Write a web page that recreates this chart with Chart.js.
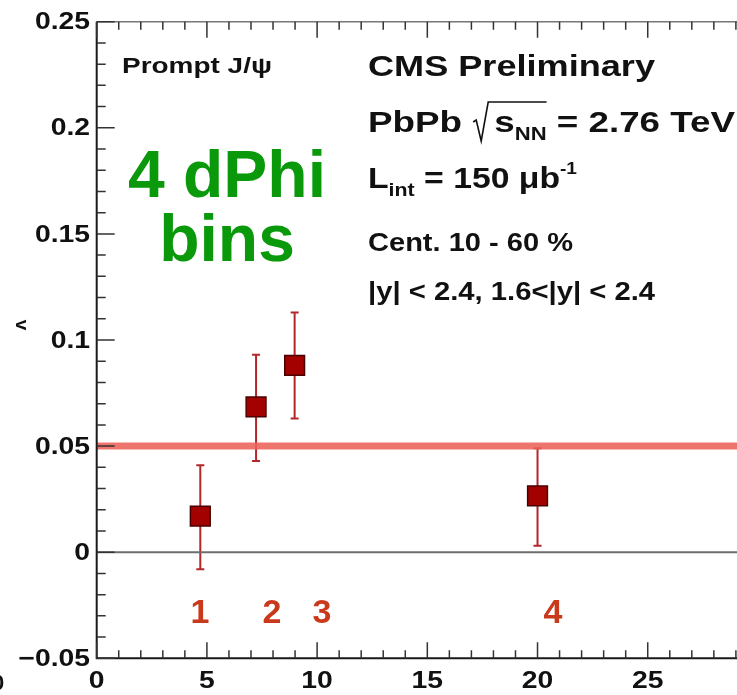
<!DOCTYPE html>
<html>
<head>
<meta charset="utf-8">
<script src="https://cdn.jsdelivr.net/npm/chart.js@4.4.1/dist/chart.umd.min.js"></script>
<style>
  html, body { margin: 0; padding: 0; background: #fff; }
  #wrap { width: 737px; height: 695px; }
</style>
</head>
<body>
<div id="wrap"><canvas id="v2Chart" width="737" height="695"></canvas></div>
<script>
// bin centres and v2 values
const binX = [4.7, 7.23, 8.98, 20.0];
const v2 = [0.017, 0.0685, 0.088, 0.0265];
const v2Low = [-0.008, 0.043, 0.063, 0.003];
const v2High = [0.041, 0.093, 0.113, 0.049];

// reference level (red band) and axis ranges
const refLevel = 0.05;
const xRange = [0, 29.05];
const yRange = [-0.05, 0.25];

// tick labels
const xTicks = [0, 5, 10, 15, 20, 25];
const xTickLabels = ['0', '5', '10', '15', '20', '25'];
const yTicks = [-0.05, 0, 0.05, 0.1, 0.15, 0.2, 0.25];
const yTickLabels = ['\u22120.05', '0', '0.05', '0.1', '0.15', '0.2', '0.25'];

// bin numbers written under the points
const binNames = ['1', '2', '3', '4'];
const binNameX = [4.69, 7.95, 10.22, 20.7];
const binNameY = -0.0334;

const BOLD = '"Liberation Sans", Arial, Helvetica, sans-serif';

function font(size) {
    return 'bold ' + size + 'px ' + BOLD;
}

// draw a string squeezed/stretched horizontally by sx
function stretchText(ctx, s, x, y, size, sx, align) {
    ctx.save();
    ctx.font = font(size);
    ctx.textAlign = align || 'left';
    ctx.translate(x, y);
    ctx.scale(sx, 1);
    ctx.fillText(s, 0, 0);
    ctx.restore();
}

// draw a run of pieces (sub/superscripts) fitted to a target width
function drawRun(ctx, pieces, x, y, target) {
    let total = 0;
    pieces.forEach(p => {
        ctx.font = font(p.size);
        p.w = p.gap != null ? p.gap : ctx.measureText(p.t).width;
        total += p.w;
    });
    const sx = target / total;
    let cx = x;
    const marks = {};
    pieces.forEach(p => {
        if (p.mark) marks[p.mark] = cx;
        if (p.t) stretchText(ctx, p.t, cx, y + (p.dy || 0), p.size, sx);
        cx += p.w * sx;
        if (p.endMark) marks[p.endMark] = cx;
    });
    return marks;
}

const decorations = {
    id: 'decorations',
    beforeDatasetsDraw(chart) {
        const ctx = chart.ctx;
        const xs = chart.scales.x, ys = chart.scales.y;
        // error bars
        ctx.save();
        ctx.strokeStyle = '#b3262a';
        ctx.lineWidth = 2;
        binX.forEach((bx, i) => {
            const px = xs.getPixelForValue(bx);
            const top = ys.getPixelForValue(v2High[i]);
            const bot = ys.getPixelForValue(v2Low[i]);
            ctx.beginPath();
            ctx.moveTo(px, top); ctx.lineTo(px, bot);
            ctx.moveTo(px - 4, top); ctx.lineTo(px + 4, top);
            ctx.moveTo(px - 4, bot); ctx.lineTo(px + 4, bot);
            ctx.stroke();
        });
        ctx.restore();
    },
    afterDraw(chart) {
        const ctx = chart.ctx;
        const xs = chart.scales.x, ys = chart.scales.y;
        const a = chart.chartArea;

        // frame
        ctx.save();
        ctx.strokeStyle = '#777';
        ctx.lineWidth = 1.5;
        ctx.beginPath();
        ctx.moveTo(a.left, a.top); ctx.lineTo(a.right, a.top);
        ctx.stroke();
        ctx.strokeStyle = '#1a1a1a';
        ctx.lineWidth = 2;
        ctx.beginPath();
        ctx.moveTo(a.left, a.top); ctx.lineTo(a.left, a.bottom); ctx.lineTo(a.right, a.bottom);
        ctx.stroke();

        // inward ticks, ROOT style
        ctx.strokeStyle = '#333';
        ctx.lineWidth = 1.5;
        ctx.beginPath();
        for (let i = 0; i <= 29; i++) {
            const px = xs.getPixelForValue(i);
            const len = i % 5 === 0 ? 16 : 8;
            ctx.moveTo(px, a.bottom); ctx.lineTo(px, a.bottom - len);
            ctx.moveTo(px, a.top); ctx.lineTo(px, a.top + len);
        }
        for (let k = -5; k <= 25; k++) {
            const py = ys.getPixelForValue(k / 100);
            const len = k % 5 === 0 ? 18 : 9;
            ctx.moveTo(a.left, py); ctx.lineTo(a.left + len, py);
        }
        ctx.stroke();
        ctx.restore();

        ctx.save();
        ctx.fillStyle = '#111';
        // tick labels
        ctx.textBaseline = 'middle';
        yTicks.forEach((v, i) => {
            stretchText(ctx, yTickLabels[i], 90, ys.getPixelForValue(v) + 1, 24, 1.18, 'right');
        });
        ctx.textBaseline = 'alphabetic';
        xTicks.forEach((v, i) => {
            stretchText(ctx, xTickLabels[i], xs.getPixelForValue(v), 688, 24, 1.18, 'center');
        });

        // axis title fragment (cropped)
        ctx.save();
        ctx.translate(16, 325);
        ctx.rotate(Math.PI / 2);
        ctx.font = font(19);
        ctx.textAlign = 'center';
        ctx.fillText('v', 0, 0);
        ctx.restore();
        ctx.font = font(22);
        ctx.fillText('0', -8, 690);

        // labels in the pad
        drawRun(ctx, [{ t: 'Prompt J/\u03c8', size: 22 }], 122, 73, 150);
        drawRun(ctx, [{ t: 'CMS Preliminary', size: 30 }], 368, 76, 287);
        const m = drawRun(ctx, [
            { t: 'PbPb ', size: 30 },
            { gap: 18, mark: 'sq' },
            { t: 's', size: 30, mark: 's' },
            { t: 'NN', size: 18, dy: 8, endMark: 'nn' },
            { t: ' = 2.76 TeV', size: 30 }
        ], 368, 132, 367);
        ctx.strokeStyle = '#111';
        ctx.lineWidth = 1.6;
        ctx.beginPath();
        ctx.moveTo(m.sq + 1, 122);
        ctx.lineTo(m.sq + 4, 120);
        ctx.lineTo(m.sq + 9, 141);
        ctx.lineTo(m.sq + 16, 102);
        ctx.lineTo(m.nn, 102);
        ctx.stroke();
        drawRun(ctx, [
            { t: 'L', size: 30 },
            { t: 'int', size: 19, dy: 8 },
            { t: ' = 150 \u03bcb', size: 30 },
            { t: '-1', size: 17, dy: -14 }
        ], 368, 188, 209);
        drawRun(ctx, [{ t: 'Cent. 10 - 60 %', size: 25 }], 368, 251, 205);
        drawRun(ctx, [{ t: '|y| < 2.4, 1.6<|y| < 2.4', size: 25 }], 368, 300, 287);

        // green annotation
        ctx.fillStyle = '#0a990a';
        ctx.font = font(66);
        ctx.textAlign = 'center';
        ctx.fillText('4 dPhi', 227, 197);
        ctx.fillText('bins', 227, 261);

        // bin numbers
        ctx.fillStyle = '#c93a1c';
        ctx.font = font(34);
        binNames.forEach((s, i) => {
            ctx.fillText(s, xs.getPixelForValue(binNameX[i]), ys.getPixelForValue(binNameY));
        });
        ctx.restore();
    }
};

const points = binX.map((x, i) => ({ x: x, y: v2[i] }));

new Chart(document.getElementById('v2Chart'), {
    type: 'scatter',
    data: {
        datasets: [
            {
                label: 'v2',
                data: points,
                pointStyle: 'rect',
                pointRadius: 14,
                backgroundColor: '#a30000',
                borderColor: '#4a0000',
                borderWidth: 1.5,
                order: 0
            },
            {
                label: 'reference',
                data: [{ x: xRange[0], y: refLevel }, { x: xRange[1], y: refLevel }],
                showLine: true,
                pointRadius: 0,
                borderColor: 'rgba(236, 98, 90, 0.88)',
                borderWidth: 7,
                order: 1
            },
            {
                label: 'zero',
                data: [{ x: xRange[0], y: 0 }, { x: xRange[1], y: 0 }],
                showLine: true,
                pointRadius: 0,
                borderColor: '#6e6e6e',
                borderWidth: 2,
                order: 2
            }
        ]
    },
    options: {
        responsive: false,
        animation: false,
        devicePixelRatio: 1,
        layout: { autoPadding: false, padding: { left: 96.7, top: 21.7, right: 0, bottom: 36.7 } },
        plugins: { legend: { display: false }, tooltip: { enabled: false } },
        scales: {
            x: { type: 'linear', display: false, min: xRange[0], max: xRange[1] },
            y: { type: 'linear', display: false, min: yRange[0], max: yRange[1] }
        }
    },
    plugins: [decorations]
});
</script>
</body>
</html>
